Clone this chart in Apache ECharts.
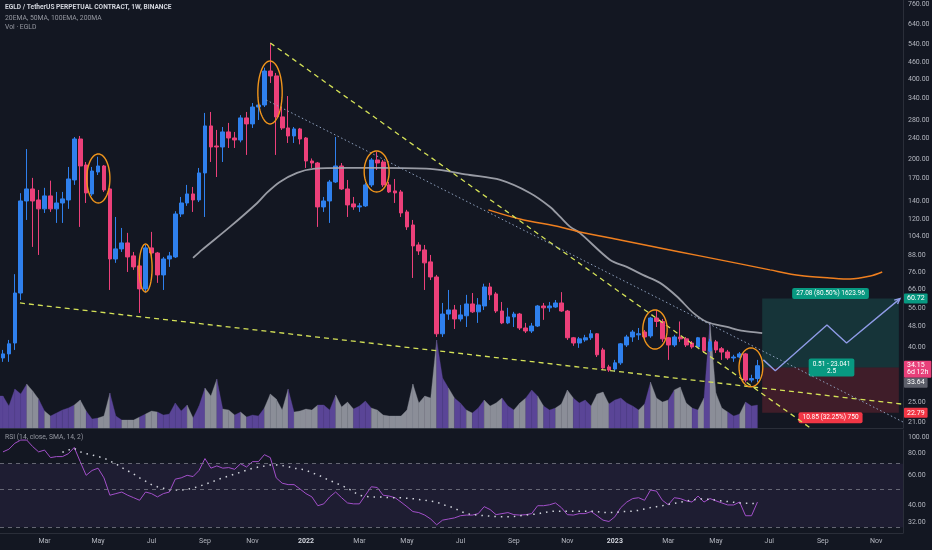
<!DOCTYPE html>
<html><head><meta charset="utf-8">
<script src="https://cdn.jsdelivr.net/npm/echarts@6/dist/echarts.min.js"></script>
<style>html,body{margin:0;padding:0;background:#131722;}#c{width:932px;height:550px;}</style>
</head><body><div id="c"></div>
<script>
// ---------- data ----------
const firstWeekUTC = Date.UTC(2021, 0, 11);
const slotCount = 152;
const opens = [36.5,37.8,41.5,63.7,140.3,155.5,141.5,131.1,146.5,131.1,
137.9,141.5,168,238.7,191,149,179.9,189.4,155.5,85.3,
93,97.9,87.6,80.4,66,93.8,89.8,74.4,85.3,86.8,
125.5,137.9,149,141.5,178.4,267,224.8,222.9,253.6,240.8,
236.7,286,271.7,314,319.5,427.7,409.9,288.5,262.4,245,
260.2,240.8,197.7,194.3,133.3,140.3,165.1,189.4,155.5,136.8,
133.3,134.5,161,199.4,196,161,152.9,151.6,127.7,114.2,
96.2,92.2,83.2,73.1,44.9,53.2,55.1,51,52.4,58,
54.2,57,67.1,63.2,54.6,49.3,51.9,53.2,47.2,46,
48,57,56.1,56.5,58.5,54.6,43.4,41.5,42.6,43.4,
44.9,39.1,33.8,33.2,35,40.8,43.7,44.5,45.6,44.1,
51.4,49.9,43.4,40.8,43.7,43,41.5,40.1,43.4,38.8,
41.9,39.5,38.4,36.5,36.8,37.8,30.2,30.6];
const closes = [37.8,41.2,63.7,140.3,155.5,140.3,131.1,146.5,131.1,137.9,
142.8,169.4,238.7,189.4,150.3,181.4,189.4,154.2,85.3,93,
97.9,86.8,79.7,66,93.8,89.8,74.4,85.3,87.6,125.5,
137.9,149,141.5,178.4,267,222.9,222.9,253.6,240.8,236.7,
286,271.7,314,319.5,427.7,409.9,288.5,262.4,245,260.2,
238.7,197.7,194.3,133.3,140.3,165.1,189.4,155.5,135.6,133.3,
134.5,161,199.4,194.3,161,151.6,150.3,126.6,112.3,95.4,
91.4,82.5,73.1,44.9,53.2,55.1,51,52.8,58,54.2,
57.5,67.1,62.7,54.6,49.3,51.9,53.2,47.2,46,48,
57,56.1,57,58.5,54.6,43.4,41.5,43,43.4,44.9,
37.5,33.5,32.9,35,41.2,43.7,45.6,44.9,43.7,51.4,
49.9,43,40.8,43.7,43,40.8,40.1,43.4,38.8,41.9,
39.1,38.4,36.5,36.8,37.8,30.2,30.6,34.15];
const lows = [35.3,35.3,39.1,60,119.2,94.6,88.3,126.6,127.7,116.2,
116.2,131.1,161,112.3,137.9,146.5,175.3,151.6,65.4,82.5,
90.6,76.3,77.7,53.7,64,86.8,69.5,65.4,79.7,86,
122.3,134.5,127.7,139,122.3,196,172.3,196,221,221,
232,208.2,262.4,281,314,386,208.2,258,230.7,230.7,
228,186.2,186.2,112.3,127.7,116.2,163.7,154.2,122.3,130,
127.7,133.3,158.2,183,158.2,150.3,137.9,122.3,109.4,72.5,
88.3,65.4,71.2,43.7,43.7,50.6,46.8,49.9,47.6,53.7,
49.3,55.1,60,53.7,48.8,48.8,47.6,46.4,45.2,45.2,
47.6,50.6,54.2,56.1,54.2,42.6,40.5,39.8,41.9,42.6,
36.8,32.9,32.4,32.4,34.4,40.1,41.9,42.6,42.6,43.4,
47.6,41.9,35.9,40.1,41.9,40.1,39.5,39.8,38.1,38.4,
38.1,35.9,35.9,35.3,36.5,29.6,29.6,29.6];
const highs = [39.1,42.6,74.9,150,219,171,154.2,157,167,151.6,
151.6,187.8,242.8,245,196,187.8,205,191,156.9,122.3,
111.3,106.7,90.6,84.6,96.2,107.6,90.6,86.8,90.6,128.5,
145.2,161,158.2,186.2,298.5,301,258,264.6,274,253.6,
293,301,325,325,440,544,420.6,316,345,264.6,
262.4,242.8,202,196,145.2,168,242.8,194.3,168,145.2,
137.9,163.7,202.7,213.6,199.4,165.1,169.4,154.2,130,119.2,
98.5,96.2,88.3,74.4,58.5,65.4,57.5,57.5,62.7,63.7,
61,69,69.5,64.2,59,56.1,54.2,53.7,49.3,49.3,
57.5,58.5,59,60,64.2,55.1,43.7,43.7,44.5,46.4,
45.2,39.8,34.4,35.9,41.5,44.5,46.4,47.2,46.4,51.9,
55.1,51,43.7,44.5,49.9,43.7,42.2,43.7,43.7,43,
42.6,40.1,39.1,37.5,38.4,38.1,31.6,35.9];
const volumes = [32,22,39,34,44,37,29,17,12,15,
18,20,23,28,17,9,10,12,35,12,
8,8,8,11,14,17,16,13,14,25,
17,23,10,22,40,32,49,19,18,13,
16,11,13,12,20,34,29,18,39,16,
17,19,18,23,23,18,33,21,26,19,
22,27,20,18,13,12,12,12,18,44,
25,32,30,88,50,40,30,25,18,15,
20,28,22,25,30,22,18,25,30,38,
32,22,18,20,24,38,30,25,28,22,
34,36,24,28,30,25,22,18,24,46,
30,26,28,38,41,25,20,18,30,106,
35,20,16,12,14,26,22,23];
const rsi = [82,85,92,96,96,88,82,84,76,77,
77,80,87,72,60,64,66,58,46,47,
48,46,44.5,43,48,47,45,47,48,57,
58,60,59,64,75,66,68,66,66.5,65,
70,67,72,72,79,76,58,54,53,53,
50,47,45,40,41,45,48,44.5,41.5,41,
41,46,51.5,51,46,45.5,44.5,42,39.5,37,
36.5,35.3,33.5,31,33,33.5,34,35,35.3,35.3,
36,39.5,38,35.5,36,36.5,35.5,35.3,35.5,36,
40,40,40.5,41.5,39,35.5,35.3,36,36,37,
35,33,32.4,34.5,39,42,44,44.5,43,49.3,
48.6,43,40.5,44.5,44,42.7,42,45.5,42,44,
42.7,41.5,40.4,40.4,42,35,35,42];
const rsiSma = [null,null,null,null,null,null,null,null,null,null,
81.6,84,86,82,80,78.7,77,75.6,72.5,70,
66.5,63.7,61,58,55.5,53,51.5,50.5,49.5,49.3,
49.3,49.7,50.7,51.7,53.3,54.6,56.4,58,59.5,61,
62.5,64.3,65.9,67,67.9,68.9,68.9,68.3,67.4,65.9,
65.3,64.3,62,60.5,58,56,54.2,52.3,50.6,48.1,
46,45.3,45,45,44.8,44.6,44.5,44.5,44.2,43.9,
43.5,43,42.5,42,40.6,39.8,38.7,37.1,36.1,35.5,
35.3,35,34.8,34.6,34.5,34.5,34.6,35,35.3,35.6,
35.9,36.5,37,37.2,37.2,37.2,37.2,37.2,37.2,37.2,
37,36.5,36.5,36.5,37,37,37.2,37.6,38.3,39,
39.5,40,40.8,41.3,41.9,42.6,43.1,43.7,43.7,43.5,
43.1,42.6,42.3,41.9,41.5,41.3,41.3,41];
const ma50Pts = [[32,86.1],[33.5,92.2],[38.2,112.3],[42.8,137.9],[44.4,150.3],[46.6,165.1],[49.5,178.4],[52.2,184.6],[57.9,186.2],[63.5,186.2],[71.9,184.6],[78.6,175.3],[83.7,168],[88.7,150.3],[92.1,133.3],[93.8,122.3],[95.5,112.3],[97.1,106.7],[102.2,84.6],[105,79.7],[107.7,74.4],[110.6,69.5],[113.5,61.7],[116.2,53.7],[118.5,49.7],[121.9,47.6],[124.6,46],[127.8,45.2]];
const ma200Pts = [[81.7,130],[87,120.2],[93.8,112.3],[97.1,107.6],[103.9,100.4],[110.6,93.8],[117.3,87.6],[124.1,81.8],[129.1,77.7],[134.2,74],[139.2,72.5],[142.6,71.8],[146,73.7],[148,76.3]];
const supportLine = [[2.86,58.5],[151.5,24.55]];
const resistLine = [[45,544],[137,19.24]];
const dottedLine = [[44.3,333.5],[151.5,21.08]];
const ellX1 = [14.1,22.9,42.9,60.8,107.7,123.9];
const ellX2 = [18.0,25.1,47.0,65.0,111.8,127.9];
const ellTop = [210,97,466,215.4,55.1,39.8];
const ellBot = [137.9,64.3,271.6,151.5,39.4,28.5];
const posFrom = 127.8, posTo = 150.8, posEntry = 33.64, posTarget = 60.72, posStop = 22.79;
const posLabels = ['27.08 (80.50%) 1623.96', '0.51 - 23.041\n2.5', '10.85 (32.25%) 750'];
const zigX = [128,130,138.7,142,151];
const zigP = [35.9,32.7,48.4,41.5,60.72];
const tagValues = [60.72, 34.15, 33.64, 22.79];
const tagTexts = ['60.72', '34.15\n6d 12h', '33.64', '22.79'];
const tagColors = ['#089981', '#e8407a', '#5d606b', '#f23645'];
const priceTicks = [760,640,540,460,400,340,280,240,200,170,140,120,104,88,76,66,56,48,40,25,21];
const rsiTicks = [100,80,60,40,32];
const rsiLevels = [70,50,30];
const monthNames = ['Jan','Feb','Mar','Apr','May','Jun','Jul','Aug','Sep','Oct','Nov','Dec'];

// ---------- build ----------
const L = Math.log;
const WEEK = 7 * 864e5;
const timeTickIdx = [], timeTickText = {};
for (let i = 1; i < slotCount; i++) {
  const d = new Date(firstWeekUTC + i * WEEK), p = new Date(firstWeekUTC + (i - 1) * WEEK);
  const m = d.getUTCMonth();
  if (m !== p.getUTCMonth() && m % 2 === 0) {
    timeTickIdx.push(i);
    timeTickText[i] = m === 0 ? String(d.getUTCFullYear()) : monthNames[m];
  }
}
const UP = '#2f80ed', DOWN = '#ec407a';
const candleData = opens.map((o, i) => [i, L(o), L(closes[i]), L(lows[i]), L(highs[i])]);
const volData = volumes.map((v, i) => [i, i > 0 ? volumes[i - 1] : v, v, closes[i] >= opens[i] ? 1 : 0]);
const toLn = arr => arr.map(p => [p[0], L(p[1])]);
const font = 'Roboto';

// stack right-side tags so they do not overlap (like the platform does)
function tagTops(api) {
  const items = tagValues.map((v, k) => {
    const y = api.coord([0, L(v)])[1];
    const two = tagTexts[k].indexOf('\n') >= 0;
    const h = two ? 16 : 10;
    return { k: k, h: h, top: two ? y - 5 : y - h / 2 };
  });
  items.sort((a, b) => a.top - b.top);
  for (let j = 1; j < items.length; j++) {
    const prev = items[j - 1];
    if (items[j].top < prev.top + prev.h + 1) items[j].top = prev.top + prev.h + 1;
  }
  const res = {};
  items.forEach(it => { res[it.k] = it.top; });
  return res;
}

const chart = echarts.init(document.getElementById('c'));
const option = {
  backgroundColor: '#131722',
  animation: false,
  textStyle: { fontFamily: font },
  grid: [
    { left: 0, top: 0, width: 903, height: 428, outerBoundsMode: 'none' },
    { left: 0, top: 430, width: 903, height: 103, outerBoundsMode: 'none' }
  ],
  xAxis: [
    { type: 'value', gridIndex: 0, min: -0.5, max: slotCount - 0.5,
      axisLine: { show: true, onZero: false, lineStyle: { color: '#2a2e39' } },
      axisTick: { show: false }, axisLabel: { show: false }, splitLine: { show: false } },
    { type: 'value', gridIndex: 1, min: -0.5, max: slotCount - 0.5,
      axisLine: { show: true, onZero: false, lineStyle: { color: '#2a2e39' } },
      axisTick: { show: false }, splitLine: { show: false },
      axisLabel: { customValues: timeTickIdx, color: '#b2b5be', fontSize: 7, margin: 5, fontFamily: font,
        formatter: v => { const t = timeTickText[Math.round(v)] || ''; return /^\d{4}$/.test(t) ? '{y|' + t + '}' : t; },
        rich: { y: { fontWeight: 'bold', color: '#d1d4dc', fontSize: 7, fontFamily: font } } } }
  ],
  yAxis: [
    { type: 'value', gridIndex: 0, position: 'right', min: 2.9966, max: 6.6673,
      axisLine: { show: true, onZero: false, lineStyle: { color: '#2a2e39' } },
      axisTick: { show: false }, splitLine: { show: false },
      axisLabel: { customValues: priceTicks.map(L), formatter: v => Math.exp(v).toFixed(2),
        color: '#b2b5be', fontSize: 7, margin: 5, fontFamily: font } },
    { type: 'value', gridIndex: 0, min: 0, max: 428, show: false },
    { type: 'value', gridIndex: 1, position: 'right', min: 3.325, max: 4.6985,
      axisLine: { show: true, onZero: false, lineStyle: { color: '#2a2e39' } },
      axisTick: { show: false }, splitLine: { show: false },
      axisLabel: { customValues: rsiTicks.map(L), formatter: v => Math.exp(v).toFixed(2),
        color: '#b2b5be', fontSize: 7, margin: 5, fontFamily: font } }
  ],
  graphic: [
    { type: 'text', left: 5, top: 4, style: { text: 'EGLD / TetherUS PERPETUAL CONTRACT, 1W, BINANCE', fill: '#d1d4dc', fontSize: 6.6, fontWeight: 'bold', fontFamily: font } },
    { type: 'text', left: 5, top: 14.5, style: { text: '20EMA, 50MA, 100EMA, 200MA', fill: '#9598a1', fontSize: 6.8, fontFamily: font } },
    { type: 'text', left: 5, top: 24, style: { text: 'Vol · EGLD', fill: '#9598a1', fontSize: 6.8, fontFamily: font } },
    { type: 'text', left: 5, top: 434, style: { text: 'RSI (14, close, SMA, 14, 2)', fill: '#9598a1', fontSize: 6.8, fontFamily: font } }
  ],
  series: [
    { type: 'custom', name: 'vol', xAxisIndex: 0, yAxisIndex: 1, z: 1,
      dimensions: ['i', 'vp', 'v', 'up'], encode: { x: 0, y: [1, 2] }, data: volData,
      renderItem: (params, api) => {
        const i = api.value(0), x0 = i === 0 ? -0.5 : i - 1;
        const p1 = api.coord([x0, api.value(1)]), p2 = api.coord([i, api.value(2)]);
        const p3 = api.coord([i, 0]), p4 = api.coord([x0, 0]);
        const col = api.value(3) ? '#5a4597' : '#8b8e98';
        return { type: 'polygon', shape: { points: [p1, p2, p3, p4] },
          style: { fill: col, stroke: col, lineWidth: 0.3 } };
      } },
    { type: 'custom', name: 'position', xAxisIndex: 0, yAxisIndex: 0, z: 1,
      dimensions: ['a', 'b', 't', 'e', 's'], encode: { x: [0, 1], y: [2, 3, 4] },
      data: [[posFrom, posTo, L(posTarget), L(posEntry), L(posStop)]],
      renderItem: (params, api) => {
        const a = api.coord([api.value(0), api.value(2)]);
        const b = api.coord([api.value(1), api.value(3)]);
        const c = api.coord([api.value(1), api.value(4)]);
        const mid = (a[0] + b[0]) / 2;
        const lab = (txt, x, y, bg) => ({ type: 'text', x: x, y: y, z2: 20,
          style: { text: txt, fill: '#ffffff', backgroundColor: bg, padding: [2, 4], borderRadius: 2,
            fontSize: 6.5, lineHeight: 7, fontFamily: font, align: 'center', verticalAlign: 'middle' } });
        return { type: 'group', children: [
          { type: 'rect', shape: { x: a[0], y: a[1], width: b[0] - a[0], height: b[1] - a[1] }, style: { fill: 'rgba(34,171,148,0.2)' } },
          { type: 'rect', shape: { x: a[0], y: b[1], width: b[0] - a[0], height: c[1] - b[1] }, style: { fill: 'rgba(242,54,69,0.2)' } },
          lab(posLabels[0], mid, a[1] - 5, '#089981'),
          lab(posLabels[1], mid + 1, b[1], '#089981'),
          lab(posLabels[2], mid, c[1] + 5, '#f23645')
        ] };
      } },
    { type: 'candlestick', name: 'EGLD', xAxisIndex: 0, yAxisIndex: 0, z: 3,
      encode: { x: 0, y: [1, 2, 3, 4] }, data: candleData, barWidth: 4.2,
      itemStyle: { color: UP, color0: DOWN, borderColor: UP, borderColor0: DOWN, borderWidth: 1 } },
    { type: 'line', name: '50MA', xAxisIndex: 0, yAxisIndex: 0, z: 4, data: toLn(ma50Pts), smooth: 0.3,
      showSymbol: false, lineStyle: { color: '#a7aab3', width: 1.8, opacity: 0.9 } },
    { type: 'line', name: '200MA', xAxisIndex: 0, yAxisIndex: 0, z: 4, data: toLn(ma200Pts), smooth: 0.3,
      showSymbol: false, lineStyle: { color: '#ef7f1f', width: 1.5 } },
    { type: 'line', xAxisIndex: 0, yAxisIndex: 0, z: 4, data: toLn(supportLine), showSymbol: false,
      lineStyle: { color: '#d4e157', width: 1.3, type: [5, 4] } },
    { type: 'line', xAxisIndex: 0, yAxisIndex: 0, z: 4, data: toLn(resistLine), showSymbol: false,
      lineStyle: { color: '#d4e157', width: 1.3, type: [5, 4] } },
    { type: 'line', xAxisIndex: 0, yAxisIndex: 0, z: 4, data: toLn(dottedLine), showSymbol: false,
      lineStyle: { color: '#8ea0bd', width: 1, type: [1.5, 2.5] } },
    { type: 'line', xAxisIndex: 0, yAxisIndex: 0, z: 4, data: zigX.map((x, i) => [x, L(zigP[i])]), showSymbol: false,
      lineStyle: { color: '#8f9be6', width: 1.4 } },
    { type: 'custom', name: 'arrow', xAxisIndex: 0, yAxisIndex: 0, z: 4,
      dimensions: ['x0', 'x1', 'y0', 'y1'], encode: { x: [0, 1], y: [2, 3] },
      data: [[zigX[3], zigX[4], L(zigP[3]), L(zigP[4])]],
      renderItem: (params, api) => {
        const p = api.coord([api.value(0), api.value(2)]), q = api.coord([api.value(1), api.value(3)]);
        const ang = Math.atan2(q[1] - p[1], q[0] - p[0]), len = 6, sp = 0.45;
        const l = [q[0] - len * Math.cos(ang - sp), q[1] - len * Math.sin(ang - sp)];
        const r = [q[0] - len * Math.cos(ang + sp), q[1] - len * Math.sin(ang + sp)];
        return { type: 'polyline', shape: { points: [l, q, r] }, style: { stroke: '#8f9be6', lineWidth: 1.4, fill: 'none' } };
      } },
    { type: 'custom', name: 'ellipses', xAxisIndex: 0, yAxisIndex: 0, z: 5,
      dimensions: ['x1', 'x2', 'top', 'bot'], encode: { x: [0, 1], y: [2, 3] },
      data: ellX1.map((x, i) => [x, ellX2[i], L(ellTop[i]), L(ellBot[i])]),
      renderItem: (params, api) => {
        const a = api.coord([api.value(0), api.value(2)]), b = api.coord([api.value(1), api.value(3)]);
        const cx = (a[0] + b[0]) / 2, cy = (a[1] + b[1]) / 2, rx = Math.abs(b[0] - a[0]) / 2, ry = Math.abs(b[1] - a[1]) / 2;
        const pts = [];
        for (let k = 0; k < 72; k++) { const t = k / 72 * 2 * Math.PI; pts.push([cx + rx * Math.cos(t), cy + ry * Math.sin(t)]); }
        return { type: 'polygon', shape: { points: pts }, style: { fill: 'none', stroke: '#f0951c', lineWidth: 1.4 } };
      } },
    { type: 'custom', name: 'tags', xAxisIndex: 0, yAxisIndex: 0, z: 10,
      dimensions: ['k', 'v'], encode: { x: 0, y: 1 },
      data: tagValues.map((v, i) => [i, L(v)]),
      renderItem: (params, api) => {
        const k = params.dataIndex;
        const tops = tagTops(api);
        const x = params.coordSys.x + params.coordSys.width + 1;
        return { type: 'text', x: x, y: tops[k], z2: 50,
          style: { text: tagTexts[k], fill: '#ffffff', backgroundColor: tagColors[k], padding: [1.5, 3, 1.5, 3],
            borderRadius: 1, fontSize: 7, lineHeight: 7, fontFamily: font, align: 'left', verticalAlign: 'top' } };
      } },
    { type: 'line', name: 'RSI', xAxisIndex: 1, yAxisIndex: 2, z: 4, data: rsi.map((v, i) => [i, L(v)]),
      showSymbol: false, lineStyle: { color: '#a24fc9', width: 1 },
      markArea: { silent: true, itemStyle: { color: 'rgba(126,87,194,0.1)' },
        data: [[{ yAxis: L(rsiLevels[0]) }, { yAxis: L(rsiLevels[2]) }]] },
      markLine: { silent: true, symbol: 'none', label: { show: false },
        lineStyle: { color: '#787b86', type: [4, 4], width: 1, opacity: 0.8 },
        data: rsiLevels.map(v => ({ yAxis: L(v) })) } },
    { type: 'line', name: 'RSI SMA', xAxisIndex: 1, yAxisIndex: 2, z: 4,
      data: rsiSma.map((v, i) => v == null ? null : [i, L(v)]).filter(Boolean),
      showSymbol: false, lineStyle: { color: '#d1d4dc', width: 1.5, type: [1.5, 5] } }
  ]
};
chart.setOption(option);
</script>
</body></html>
